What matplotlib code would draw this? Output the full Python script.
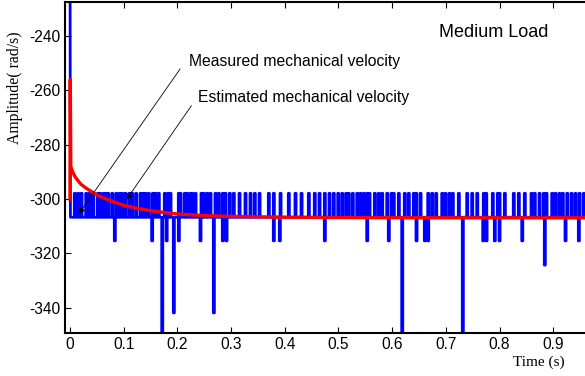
import matplotlib
matplotlib.use("Agg")
import matplotlib.pyplot as plt

# Levels of the quantised measured speed (rad/s)
BASE_LEVEL = -306.7
UP_LEVEL = -297.9

# Times (s) where the measured speed jumps up by one step
up_times = [
    0.008, 0.0143, 0.0205, 0.0292, 0.0354, 0.0423, 0.0508, 0.0559, 0.062, 0.0665,
    0.0702, 0.0777, 0.0851, 0.0912, 0.0963, 0.1024, 0.1099, 0.1149, 0.1223, 0.1304,
    0.1354, 0.1397, 0.1458, 0.1533, 0.1583, 0.1644, 0.1756, 0.1816, 0.1862, 0.2017,
    0.2048, 0.2128, 0.2173, 0.2235, 0.2266, 0.2328, 0.2439, 0.2482, 0.2546, 0.2607,
    0.27, 0.2762, 0.2836, 0.2886, 0.2966, 0.3041, 0.3147, 0.3259, 0.3352, 0.3432,
    0.352, 0.3693, 0.3786, 0.3911, 0.4065, 0.419, 0.4302, 0.4438, 0.4549, 0.4637,
    0.4736, 0.4823, 0.4903, 0.4985, 0.506, 0.5134, 0.5182, 0.5257, 0.5339, 0.54,
    0.5462, 0.5525, 0.5568, 0.5667, 0.5741, 0.5804, 0.5898, 0.5978, 0.602, 0.6114,
    0.6225, 0.63, 0.6393, 0.6438, 0.6518, 0.6661, 0.6735, 0.681, 0.6922, 0.6983,
    0.7058, 0.7119, 0.7231, 0.7387, 0.748, 0.7574, 0.7696, 0.7741, 0.7864, 0.7957,
    0.7989, 0.8088, 0.8255, 0.8348, 0.846, 0.8585, 0.8646, 0.8734, 0.8814, 0.8864,
    0.897, 0.9032, 0.9106, 0.9168, 0.925, 0.933, 0.9404, 0.9479, 0.9559,
]

# Times (s) and levels where the measured speed drops
down_times = [
    0.0825, 0.152, 0.1708, 0.179, 0.1924, 0.2017, 0.242, 0.2669, 0.2836, 0.2905,
    0.3786, 0.3898, 0.4736, 0.5525, 0.5927, 0.6177, 0.6443, 0.6598, 0.6661, 0.7305,
    0.7685, 0.7747, 0.7901, 0.7989, 0.8412, 0.8832, 0.9218, 0.9466,
]
down_levels = [
    -315.4, -315.4, -352.0, -315.4, -341.9, -315.4, -315.4, -341.9, -315.4, -315.4,
    -315.4, -315.4, -315.4, -315.4, -315.4, -352.0, -315.4, -315.4, -315.4, -352.0,
    -315.4, -315.4, -315.4, -315.4, -315.4, -324.3, -315.4, -315.4,
]

# Estimated speed (observer output)
est_t = [0.0, 0.0005, 0.0015, 0.005, 0.01, 0.02, 0.03, 0.05, 0.07, 0.1,
         0.13, 0.16, 0.2, 0.25, 0.3, 0.4, 0.5, 0.7, 1.0]
est_w = [-300.0, -256.0, -288.0, -290.0, -292.0, -294.5, -296.0, -298.5, -300.2, -302.3,
         -303.6, -304.6, -305.5, -306.1, -306.4, -306.7, -306.8, -306.9, -306.9]


def measured_path(width=0.002):
    """
    Build the step path of the measured speed from the pulse lists.
    """
    events = [(t, UP_LEVEL) for t in up_times]
    events += list(zip(down_times, down_levels))
    events.sort()
    xs = [0.0, 0.0008]
    ys = [-200.0, BASE_LEVEL]
    for t, lvl in events:
        xs += [t, t, t + width, t + width]
        ys += [BASE_LEVEL, lvl, lvl, BASE_LEVEL]
    xs.append(1.0)
    ys.append(BASE_LEVEL)
    return xs, ys


plt.rcParams["font.family"] = ["Liberation Sans", "DejaVu Sans"]
plt.rcParams["axes.unicode_minus"] = False
fig = plt.figure(figsize=(5.85, 3.76), dpi=100)
ax = fig.add_axes([65 / 585, 43 / 376, 542 / 585, 331 / 376])

mx, my = measured_path()
ax.plot(mx, my, color="#0000ff", linewidth=2.0)
ax.plot(est_t, est_w, color="#ff0000", linewidth=2.4)

ax.set_xlim(-0.0093, 1.0)
ax.set_ylim(-349.3, -227.5)
ax.set_xticks([i / 10 for i in range(10)])
ax.set_xticklabels(["0"] + [f"{i / 10:g}" for i in range(1, 10)])
ax.set_yticks(range(-340, -239, 20))
ax.tick_params(direction="in", top=True, right=True, length=4, width=0.8,
               labelsize=11.2, pad=3)
for s in ax.spines.values():
    s.set_linewidth(1.5)

arrow = dict(arrowstyle="-|>", color="black", lw=0.6, mutation_scale=9)
ax.annotate("", xy=(0.0136, -306.3), xytext=(0.208, -251.3), arrowprops=arrow)
ax.annotate("", xy=(0.1024, -301.0), xytext=(0.229, -264.8), arrowprops=arrow)
ax.text(0.222, -251.0, "Measured mechanical velocity", fontsize=11.3, va="baseline")
ax.text(0.239, -264.3, "Estimated mechanical velocity", fontsize=11.3, va="baseline")
ax.text(0.6877, -240.2, "Medium Load", fontsize=13, va="baseline")

fig.text(15 / 585, 1 - 87.5 / 376, "Amplitude( rad/s)", rotation=90, ha="center",
         va="center", fontsize=11.3, family="Liberation Serif")
fig.text(539 / 585, 1 - 366 / 376, "Time (s)", ha="center", va="baseline",
         fontsize=11, family="Liberation Serif")

fig.savefig("out.png", dpi=100)
